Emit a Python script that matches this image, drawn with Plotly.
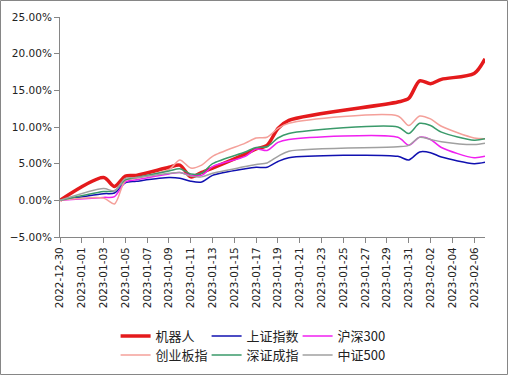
import plotly.graph_objects as go

dates = ["2022-12-30", "2023-01-03", "2023-01-04", "2023-01-05", "2023-01-06",
         "2023-01-09", "2023-01-10", "2023-01-11", "2023-01-12", "2023-01-13",
         "2023-01-16", "2023-01-17", "2023-01-18", "2023-01-19", "2023-01-20",
         "2023-01-30", "2023-01-31", "2023-02-01", "2023-02-02", "2023-02-03",
         "2023-02-06", "2023-02-07"]

robot = [0, 3.1, 1.9, 3.3, 3.4, 4.5, 4.8, 3.2, 3.8, 4.4, 6.3, 7.0, 7.5, 9.8, 10.9,
         13.4, 13.9, 16.3, 15.9, 16.5, 17.3, 19.3]
sh_index = [0, 0.9, 1.0, 2.4, 2.6, 3.1, 3.0, 2.6, 2.5, 3.4, 4.3, 4.5, 4.5, 5.3, 5.8,
            6.0, 5.5, 6.6, 6.5, 5.9, 5.0, 5.2]
hs300 = [0, 0.4, 0.5, 2.5, 2.8, 3.6, 3.8, 3.4, 3.4, 4.6, 6.0, 7.0, 6.8, 7.9, 8.3,
         8.6, 7.5, 8.6, 8.3, 7.2, 5.8, 6.0]
gem = [0, 0.3, -0.5, 2.7, 3.0, 4.2, 5.5, 4.4, 4.8, 6.0, 7.8, 8.5, 8.6, 9.8, 10.5,
       11.5, 10.2, 11.5, 11.1, 10.1, 8.5, 8.4]
sz_index = [0, 1.2, 1.3, 2.8, 3.1, 4.0, 4.3, 3.6, 3.7, 5.0, 6.6, 7.2, 7.3, 8.5, 9.1,
            10.0, 9.1, 10.5, 10.2, 9.3, 8.2, 8.4]
csi500 = [0, 1.6, 1.3, 3.0, 3.1, 3.7, 3.8, 3.3, 3.2, 3.7, 4.6, 4.9, 5.1, 6.0, 6.7,
          7.3, 7.5, 8.6, 8.3, 8.0, 7.6, 7.8]

series = [
    ("机器人", robot, "#E41A1C", 3.5, "legend"),
    ("上证指数", sh_index, "#1010B0", 1.5, "legend"),
    ("沪深300", hs300, "#F020F0", 1.5, "legend"),
    ("创业板指", gem, "#F4A09A", 1.5, "legend2"),
    ("深证成指", sz_index, "#3A9A6A", 1.5, "legend2"),
    ("中证500", csi500, "#A0A0A0", 1.5, "legend2"),
]

fig = go.Figure()
for name, vals, color, width, lg in series:
    fig.add_trace(go.Scatter(
        x=dates, y=[v / 100 for v in vals], name=name, mode="lines", legend=lg,
        line=dict(color=color, width=width, shape="spline", smoothing=0.8),
    ))

tick_font = dict(family="DejaVu Sans", size=10.5, color="#222222")
legend_font = dict(family="Noto Sans CJK SC", size=13, color="#222222")

def make_legend(top_px):
    return dict(orientation="h", x=0.452, xanchor="center",
                yref="container", y=1 - top_px / 375, yanchor="top",
                font=legend_font, entrywidth=46, itemwidth=30,
                bgcolor="rgba(0,0,0,0)")

fig.update_layout(
    width=508, height=375,
    margin=dict(l=60, r=23, t=17, b=138, autoexpand=False),
    paper_bgcolor="white", plot_bgcolor="white",
    showlegend=True,
    legend=make_legend(321),
    legend2=make_legend(340),
    xaxis=dict(type="date", range=["2022-12-30", "2023-02-07"],
               tick0="2022-12-30", dtick=2 * 86400000, tickformat="%Y-%m-%d",
               tickangle=-90, ticks="outside", ticklen=5, tickcolor="#868686",
               showline=True, linecolor="#868686", linewidth=1,
               showgrid=False, zeroline=False, tickfont=tick_font),
    yaxis=dict(range=[-0.05, 0.25], dtick=0.05, tickformat=".2%",
               ticks="outside", ticklen=5, tickcolor="#868686",
               showline=True, linecolor="#868686", linewidth=1,
               showgrid=False, zeroline=False, tickfont=tick_font),
    shapes=[dict(type="rect", xref="paper", yref="paper",
                 x0=(0.5 - 60) / 425, x1=(507.5 - 60) / 425,
                 y0=(237 - 374.5) / 220, y1=(237 - 0.5) / 220,
                 line=dict(color="#868686", width=1), layer="below")],
)

fig.write_html("out.html",
               config={"displayModeBar": False},
               post_script="document.body.style.margin='0';document.body.style.overflow='hidden';")
